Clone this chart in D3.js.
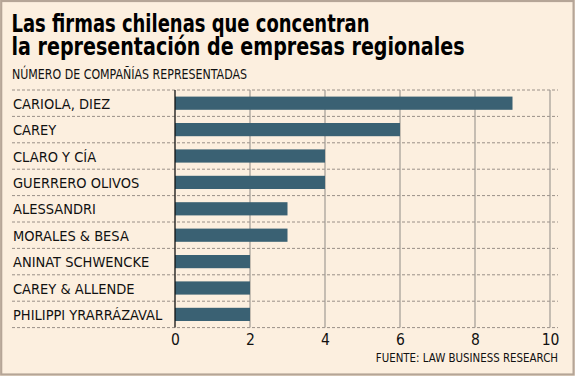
<!DOCTYPE html>
<html><head><meta charset="utf-8">
<script src="https://cdn.jsdelivr.net/npm/d3@7"></script>
<style>
html,body{margin:0;padding:0;background:#fcefdf;}
svg{display:block;}
</style></head>
<body>
<svg id="c" width="575" height="376"></svg>
<script>
const categories = ["CARIOLA, DIEZ","CAREY","CLARO Y CÍA","GUERRERO OLIVOS","ALESSANDRI","MORALES & BESA","ANINAT SCHWENCKE","CAREY & ALLENDE","PHILIPPI YRARRÁZAVAL"];
const values = [9, 6, 4, 4, 3, 3, 2, 2, 2];
const xTicks = [0, 2, 4, 6, 8, 10];
const titleLines = ["Las firmas chilenas que concentran","la representación de empresas regionales"];
const subtitle = "NÚMERO DE COMPAÑÍAS REPRESENTADAS";
const source = "FUENTE: LAW BUSINESS RESEARCH";

const W = 575, H = 376;
const svg = d3.select("#c");
const font = "'DejaVu Sans Condensed', 'DejaVu Sans', sans-serif";

svg.append("rect").attr("x",1.2).attr("y",1).attr("width",W-2.6).attr("height",H-2.5)
  .attr("fill","#fcefdf").attr("stroke","#b5a597").attr("stroke-width",2.2);

const x = d3.scaleLinear().domain([0,10]).range([175,550]);
const y = d3.scaleBand().domain(categories).range([90,327.6]).paddingInner(0.5).paddingOuter(0.25);
const step = y.step();

// title
const titleW = [358, 453];
svg.selectAll("text.title").data(titleLines).join("text")
  .attr("class","title").attr("x",11.5).attr("y",(d,i)=>32+i*22.8)
  .attr("font-family",font).attr("font-weight","bold")
  .attr("font-size",24).attr("fill","#000")
  .attr("textLength",(d,i)=>titleW[i]).attr("lengthAdjust","spacingAndGlyphs")
  .text(d=>d);

svg.append("text").attr("x",12).attr("y",79).attr("font-family",font)
  .attr("font-size",14).attr("fill","#111")
  .attr("textLength",235).attr("lengthAdjust","spacingAndGlyphs").text(subtitle);

// dashed row separators
const seps = d3.range(categories.length+1).map(i=>90+i*step);
svg.selectAll("line.sep").data(seps).join("line").attr("class","sep")
  .attr("x1",12).attr("x2",558).attr("y1",d=>d).attr("y2",d=>d)
  .attr("stroke","#9a9088").attr("stroke-width",1).attr("stroke-dasharray","3,2");

// grid
svg.selectAll("line.grid").data(xTicks.slice(1)).join("line").attr("class","grid")
  .attr("x1",d=>x(d)).attr("x2",d=>x(d)).attr("y1",90).attr("y2",327.6)
  .attr("stroke","#a09a94").attr("stroke-width",1.2);

// bars
svg.selectAll("rect.bar").data(values).join("rect").attr("class","bar")
  .attr("x",x(0)).attr("y",(d,i)=>y(categories[i]))
  .attr("width",d=>x(d)-x(0)).attr("height",y.bandwidth())
  .attr("fill","#3a6173");

// axis line
svg.append("line").attr("x1",x(0)).attr("x2",x(0)).attr("y1",90).attr("y2",327.6)
  .attr("stroke","#111").attr("stroke-width",1.3);

// category labels
svg.selectAll("text.cat").data(categories).join("text").attr("class","cat")
  .attr("x",13).attr("y",d=>y(d)+y.bandwidth()/2).attr("dy","0.38em")
  .attr("font-family",font).attr("font-size",14.5)
  .attr("fill","#111").text(d=>d);

// x axis
const ax = svg.append("g").attr("transform","translate(0,327.6)")
  .call(d3.axisBottom(x).tickValues(xTicks).tickSize(0).tickPadding(6));
ax.select(".domain").remove();
ax.selectAll("text").attr("font-family",font).attr("font-size",15.5).attr("fill","#111");

svg.append("text").attr("x",558).attr("y",362).attr("text-anchor","end")
  .attr("font-family",font).attr("font-size",11.4).attr("fill","#111").text(source);
</script>
</body></html>
